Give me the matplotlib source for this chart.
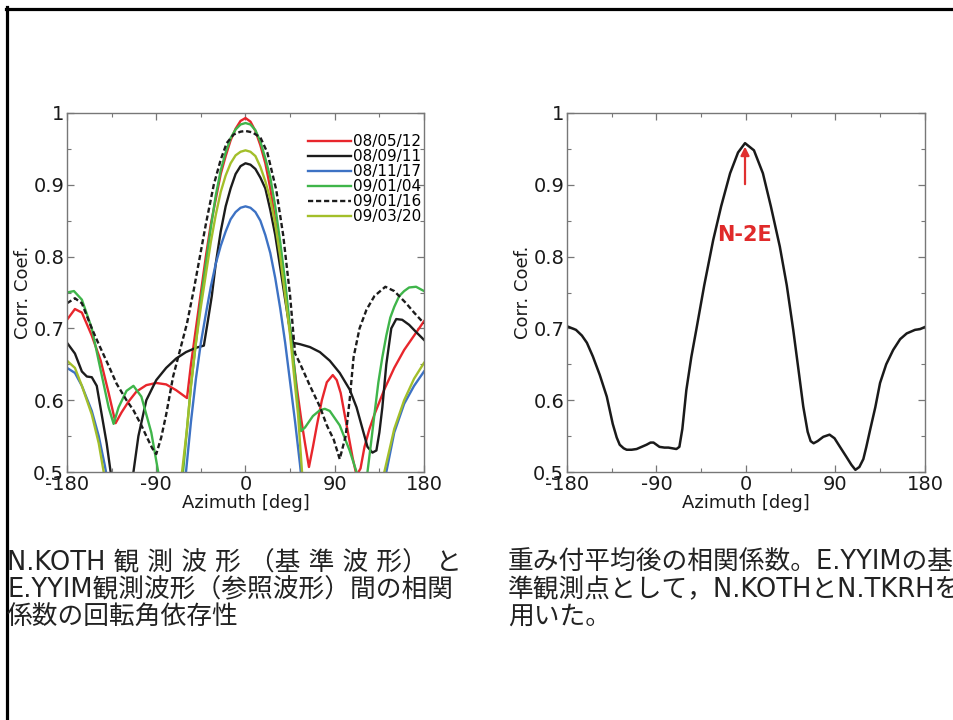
import matplotlib
matplotlib.use("Agg")
import matplotlib.pyplot as plt
from matplotlib.lines import Line2D
from matplotlib.ticker import MultipleLocator, FuncFormatter

# ---------------- data ----------------
labels = ["08/05/12", "08/09/11", "08/11/17", "09/01/04", "09/01/16", "09/03/20"]
colors = ["#e8262c", "#1c1c1c", "#3d72c4", "#3fb54a", "#1c1c1c", "#a3bf2a"]
styles = ["-", "-", "-", "-", (0, (2.2, 1.2)), "-"]

red_x = [-180, -172, -165, -155, -146, -138, -131, -125, -118, -110, -100, -90, -80, -70, -62, -59,
         -55, -50, -45, -40, -35, -30, -25, -20, -15, -10, -5, 0, 5, 10, 15, 20, 25, 30, 35, 40, 45,
         48, 52, 56, 60, 64, 68, 72, 77, 82, 88, 92, 96, 100, 104, 108, 112, 116, 120, 125, 130, 140,
         150, 160, 170, 180]
red_y = [0.712, 0.727, 0.722, 0.69, 0.655, 0.61, 0.568, 0.583, 0.598, 0.612, 0.621, 0.624, 0.622,
         0.614, 0.606, 0.603, 0.65, 0.70, 0.75, 0.80, 0.845, 0.88, 0.915, 0.94, 0.962, 0.978, 0.989,
         0.993, 0.988, 0.975, 0.955, 0.93, 0.895, 0.85, 0.80, 0.75, 0.695, 0.66, 0.615, 0.575, 0.54,
         0.507, 0.535, 0.565, 0.60, 0.625, 0.635, 0.628, 0.61, 0.58, 0.55, 0.52, 0.495, 0.505, 0.535,
         0.56, 0.58, 0.615, 0.645, 0.67, 0.69, 0.71]

blk_x = [-180, -172, -165, -160, -155, -150, -145, -140, -136, -132, -116, -113, -108, -100, -90,
         -80, -70, -60, -50, -42, -38, -34, -30, -25, -20, -15, -10, -5, 0, 5, 10, 15, 20, 25, 30, 35,
         40, 44, 48, 55, 65, 75, 85, 95, 105, 112, 118, 123, 128, 132, 135, 138, 142, 147, 152, 158,
         165, 172, 180]
blk_y = [0.68, 0.665, 0.64, 0.633, 0.632, 0.62, 0.58, 0.54, 0.50, 0.46, 0.45, 0.50, 0.55, 0.60,
         0.628, 0.645, 0.658, 0.667, 0.673, 0.676, 0.71, 0.745, 0.79, 0.835, 0.87, 0.895, 0.915,
         0.926, 0.93, 0.928, 0.922, 0.91, 0.895, 0.865, 0.83, 0.785, 0.74, 0.705, 0.68, 0.678, 0.674,
         0.667, 0.655, 0.638, 0.615, 0.59, 0.56, 0.535, 0.527, 0.53, 0.555, 0.59, 0.65, 0.70, 0.713,
         0.712, 0.705, 0.695, 0.684]

blu_x = [-180, -172, -165, -155, -148, -142, -138, -64, -60, -55, -50, -45, -40, -35, -30, -25, -20,
         -15, -10, -5, 0, 5, 10, 15, 20, 25, 30, 35, 40, 45, 50, 55, 58, 138, 142, 150, 160, 170, 180]
blu_y = [0.645, 0.638, 0.62, 0.585, 0.55, 0.51, 0.48, 0.45, 0.50, 0.57, 0.63, 0.68, 0.72, 0.758,
         0.79, 0.815, 0.835, 0.852, 0.862, 0.868, 0.87, 0.868, 0.862, 0.85, 0.83, 0.805, 0.77, 0.728,
         0.68, 0.625, 0.57, 0.51, 0.47, 0.46, 0.50, 0.555, 0.595, 0.62, 0.64]

grn_x = [-180, -173, -165, -155, -145, -138, -133, -128, -120, -113, -105, -95, -88, -84, -66, -63,
         -59, -55, -50, -45, -40, -35, -30, -25, -20, -15, -10, -5, 0, 5, 10, 15, 20, 25, 30, 35, 40,
         45, 50, 53, 56, 60, 68, 75, 80, 85, 95, 105, 112, 116, 120, 123, 127, 130, 134, 138, 142,
         146, 150, 155, 160, 165, 172, 180]
grn_y = [0.75, 0.752, 0.74, 0.70, 0.635, 0.59, 0.567, 0.59, 0.613, 0.62, 0.605, 0.555, 0.50, 0.46,
         0.46, 0.50, 0.56, 0.62, 0.68, 0.74, 0.79, 0.84, 0.885, 0.92, 0.945, 0.965, 0.977, 0.984,
         0.986, 0.984, 0.976, 0.96, 0.937, 0.91, 0.87, 0.82, 0.765, 0.70, 0.635, 0.59, 0.557, 0.562,
         0.578, 0.586, 0.588, 0.585, 0.565, 0.53, 0.50, 0.47, 0.47, 0.50, 0.545, 0.58, 0.625, 0.66,
         0.69, 0.715, 0.73, 0.745, 0.752, 0.757, 0.758, 0.752]

dot_x = [-180, -172, -165, -155, -147, -138, -130, -120, -113, -105, -100, -94, -90, -85, -80, -73,
         -66, -59, -52, -46, -40, -32, -25, -19, -12, -5, 0, 7, 15, 22, 31, 38, 45, 50, 55, 65, 75,
         82, 89, 95, 101, 105, 109, 115, 122, 130, 141, 150, 162, 170, 180]
dot_y = [0.735, 0.742, 0.735, 0.70, 0.675, 0.648, 0.623, 0.60, 0.586, 0.565, 0.55, 0.533, 0.525,
         0.548, 0.58, 0.633, 0.67, 0.707, 0.755, 0.80, 0.845, 0.90, 0.935, 0.958, 0.97, 0.974, 0.975,
         0.973, 0.966, 0.945, 0.893, 0.83, 0.745, 0.665, 0.651, 0.62, 0.591, 0.565, 0.545, 0.518,
         0.55, 0.60, 0.66, 0.70, 0.726, 0.745, 0.758, 0.752, 0.735, 0.722, 0.707]

ylg_x = [-180, -172, -165, -155, -148, -143, -140, -68, -64, -59, -55, -50, -45, -40, -35, -30, -25,
         -20, -15, -10, -5, 0, 5, 10, 15, 20, 25, 30, 35, 40, 45, 50, 53, 57, 60, 136, 140, 145, 150,
         160, 170, 180]
ylg_y = [0.655, 0.645, 0.62, 0.58, 0.54, 0.50, 0.47, 0.45, 0.50, 0.56, 0.62, 0.68, 0.73, 0.775,
         0.82, 0.858, 0.89, 0.913, 0.93, 0.941, 0.946, 0.948, 0.946, 0.94, 0.925, 0.905, 0.88, 0.845,
         0.80, 0.745, 0.69, 0.62, 0.58, 0.50, 0.46, 0.46, 0.50, 0.53, 0.56, 0.60, 0.63, 0.652]

series_x = [red_x, blk_x, blu_x, grn_x, dot_x, ylg_x]
series_y = [red_y, blk_y, blu_y, grn_y, dot_y, ylg_y]

avg_x = [-180, -171, -165, -160, -154, -147, -140, -134, -130, -127, -123, -120, -115, -110, -105,
         -100, -96, -93, -90, -87, -82, -78, -74, -70, -67, -64, -60, -55, -50, -42, -33, -25, -16,
         -8, -1, 8, 17, 25, 34, 41, 47.5, 53, 57.6, 62, 65, 68, 72, 77.7, 84, 89, 94.5, 101, 106,
         110, 114, 118, 121, 124.7, 130, 134.8, 141, 148, 155, 161.6, 170, 175, 180]
avg_y = [0.703, 0.698, 0.69, 0.68, 0.661, 0.635, 0.605, 0.567, 0.548, 0.538, 0.533, 0.531, 0.531,
         0.532, 0.535, 0.538, 0.541, 0.541, 0.538, 0.535, 0.534, 0.534, 0.533, 0.532, 0.535, 0.56,
         0.614, 0.66, 0.698, 0.76, 0.823, 0.87, 0.916, 0.945, 0.958, 0.948, 0.916, 0.87, 0.814, 0.76,
         0.698, 0.64, 0.591, 0.556, 0.543, 0.54, 0.543, 0.549, 0.552, 0.547, 0.535, 0.521, 0.51,
         0.503, 0.507, 0.518, 0.535, 0.558, 0.59, 0.624, 0.65, 0.67, 0.685, 0.693, 0.698, 0.699,
         0.702]

xticks = [-180, -90, 0, 90, 180]
yticks = [0.5, 0.6, 0.7, 0.8, 0.9, 1.0]

caption_left = ["N.KOTH 観 測 波 形 （基 準 波 形） と",
                "E.YYIM観測波形（参照波形）間の相関",
                "係数の回転角依存性"]
caption_right = ["重み付平均後の相関係数。E.YYIMの基",
                 "準観測点として，N.KOTHとN.TKRHを",
                 "用いた。"]

# ---------------- figure ----------------
W, H = 954, 720
plt.rcParams['axes.unicode_minus'] = False
fig = plt.figure(figsize=(W / 100, H / 100), dpi=100)
plt.rcParams['font.family'] = ['DejaVu Sans', 'Noto Sans CJK JP']

def px_axes(x0, y0, x1, y1):
    return fig.add_axes([x0 / W, 1 - y1 / H, (x1 - x0) / W, (y1 - y0) / H])

def fmt(v, p):
    if v > 0.999:
        return "1"
    return f"{v:.1f}"

def style_axes(ax):
    ax.set_xlim(-180, 180)
    ax.set_ylim(0.5, 1.0)
    ax.set_xticks(xticks)
    ax.set_yticks(yticks)
    ax.xaxis.set_minor_locator(MultipleLocator(45))
    ax.yaxis.set_minor_locator(MultipleLocator(0.05))
    ax.yaxis.set_major_formatter(FuncFormatter(fmt))
    ax.tick_params(which='both', direction='in', top=True, right=True, color='#777777',
                   labelsize=14, labelcolor='#1a1a1a')
    ax.tick_params(which='major', length=5, width=0.9, pad=2)
    ax.tick_params(which='minor', length=3, width=0.8)
    for s in ax.spines.values():
        s.set_color('#777777')
        s.set_linewidth(1.0)
    ax.set_xlabel("Azimuth [deg]", fontsize=13, color='#1a1a1a', labelpad=0)
    ax.set_ylabel("Corr. Coef.", fontsize=13, color='#1a1a1a', labelpad=1)

axL = px_axes(67, 113, 424, 472)
style_axes(axL)
for xs, ys, c, ls, lab in zip(series_x, series_y, colors, styles, labels):
    axL.plot(xs, ys, color=c, ls=ls, lw=1.7, label=lab, solid_joinstyle='round')
leg = axL.legend(loc='upper right', bbox_to_anchor=(1.0, 0.95), frameon=False, fontsize=11,
                 handlelength=2.8, handletextpad=0.1, labelspacing=0.0, borderpad=0.1,
                 borderaxespad=0.1)

axR = px_axes(567, 113, 925, 472)
style_axes(axR)
axR.plot(avg_x, avg_y, color='#1a1a1a', lw=1.8, solid_joinstyle='round')
axR.annotate("", xy=(-1, 0.957), xytext=(-1, 0.897),
             arrowprops=dict(arrowstyle='-|>,head_length=0.5,head_width=0.25', color='#e03030', lw=1.6))
axR.text(-2, 0.83, "N-2E", color='#e02a2a', fontsize=15, fontweight='bold', ha='center', va='center')

# captions
for i, t in enumerate(caption_left):
    fig.text(7 / W, 1 - (563 + 27 * i) / H, t, fontsize=18.5, color='#222222', va='center', ha='left')
for i, t in enumerate(caption_right):
    fig.text(508 / W, 1 - (563 + 27 * i) / H, t, fontsize=18.5, color='#222222', va='center', ha='left')

# page frame
fig.add_artist(Line2D([7.5 / W, 7.5 / W], [0, 1 - 7 / H], color='black', lw=2.3, transform=fig.transFigure))
fig.add_artist(Line2D([6.5 / W, 1], [1 - 8.5 / H, 1 - 8.5 / H], color='black', lw=2.3, transform=fig.transFigure))

fig.savefig("out.png", dpi=100)
